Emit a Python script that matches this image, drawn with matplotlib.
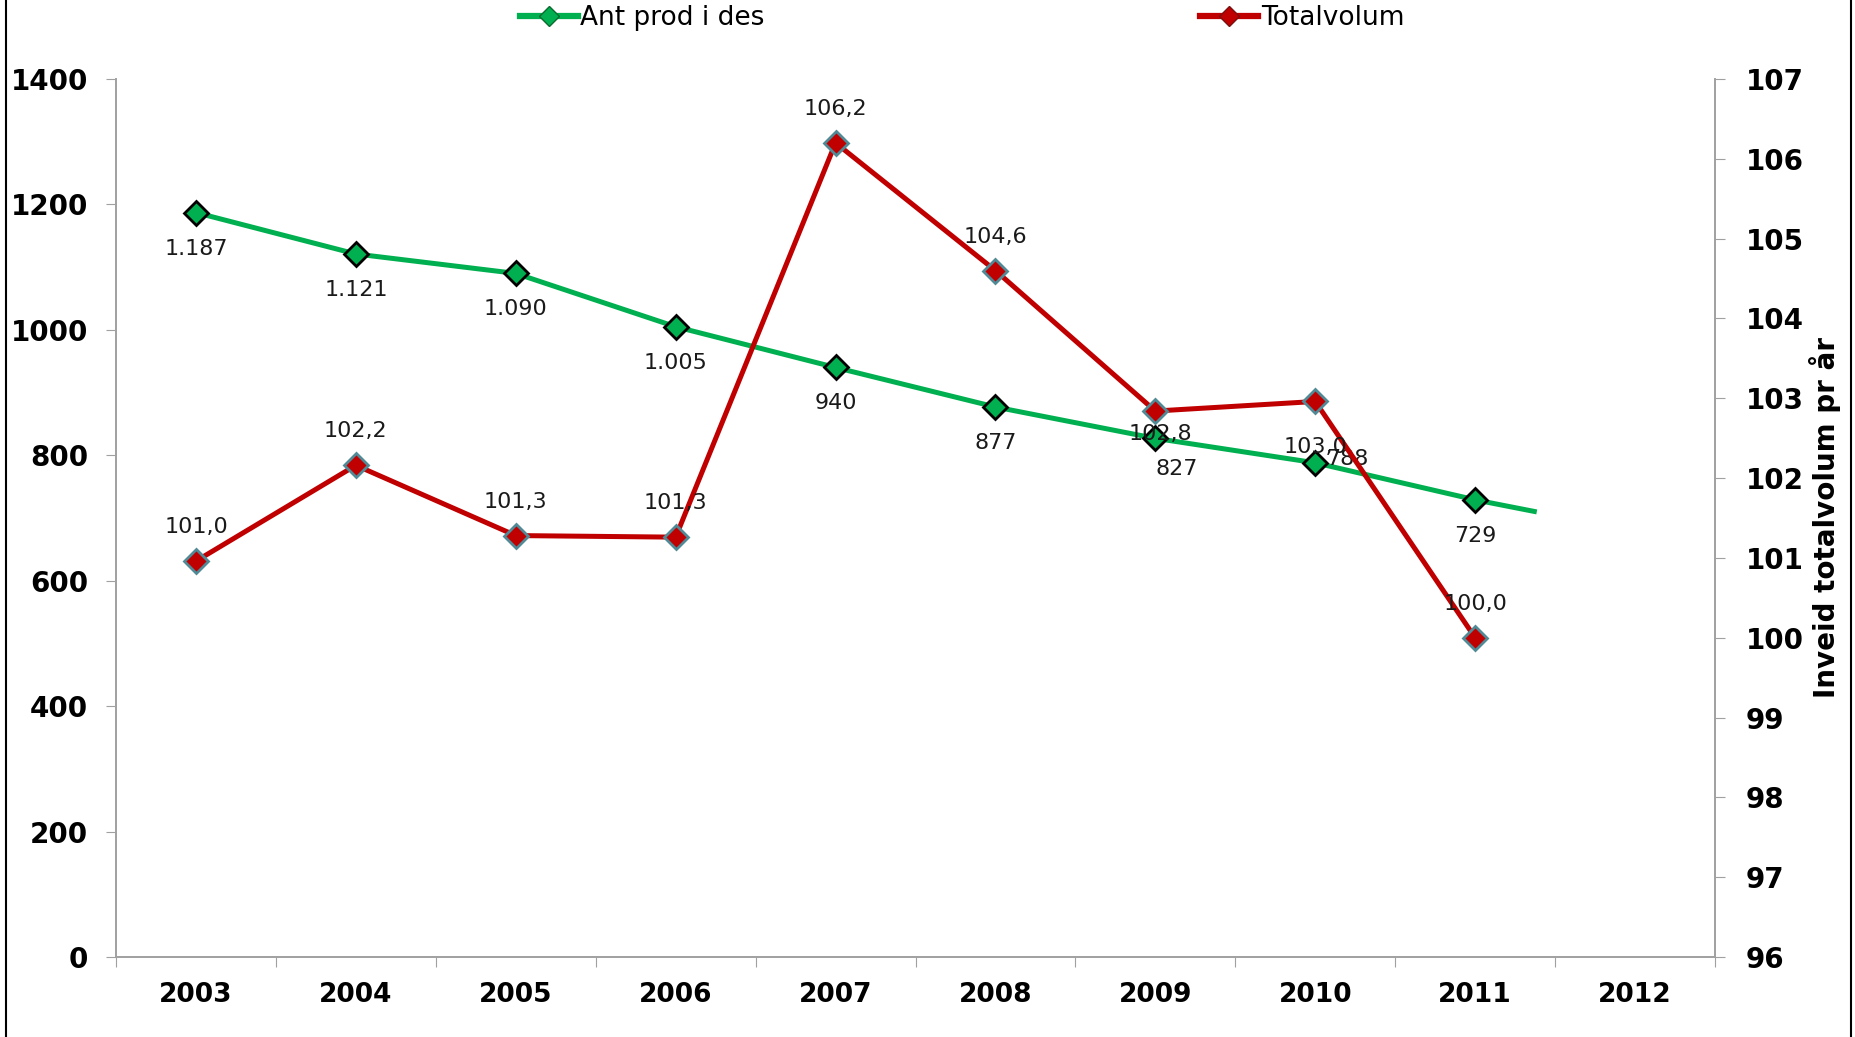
import numpy as np
import matplotlib
matplotlib.use("Agg")
import matplotlib.pyplot as plt
from matplotlib.lines import Line2D

years = [2003, 2004, 2005, 2006, 2007, 2008, 2009, 2010, 2011]
all_years = [2003, 2004, 2005, 2006, 2007, 2008, 2009, 2010, 2011, 2012]
ant_prod = [1187, 1121, 1090, 1005, 940, 877, 827, 788, 729]
totalvolum = [100.96, 102.16, 101.28, 101.26, 106.2, 104.6, 102.84, 102.96, 100.0]

green = "#00B050"
red = "#C00000"
txt = "#1a1a1a"

# label offsets in pixels (a few labels sit off their default place in the original)
green_off = {2009: (21, -31), 2010: (32, 4)}
red_off = {2009: (5, -23), 2010: (0, -46)}

fig = plt.figure(figsize=(18.55, 10.37), dpi=100)
ax = fig.add_axes([116 / 1855, 1 - 957 / 1037, (1715 - 116) / 1855, (957 - 79) / 1037])
ax2 = ax.twinx()

# green series + short forward trend (fitted from the data)
ax.plot(years, ant_prod, color=green, lw=3.6, zorder=2)
coef = np.polyfit(years, ant_prod, 2)
xf = np.linspace(years[-1], years[-1] + 0.37, 10)
yf = np.polyval(coef, xf) - np.polyval(coef, years[-1]) + ant_prod[-1]
ax.plot(xf, yf, color=green, lw=3.6, zorder=2)
ax.plot(years, ant_prod, ls="none", marker="D", ms=12, mfc=green, mec="black", mew=2, zorder=3)
for x, v in zip(years, ant_prod):
    s = f"{v:,}".replace(",", ".")
    ax.annotate(s, (x, v), xytext=green_off.get(x, (0, -36)), textcoords="offset pixels",
                ha="center", va="center", fontsize=16, color=txt, zorder=4)

ax2.plot(years, totalvolum, color=red, lw=3.6, marker="D", ms=12, mfc=red,
         mec="#4f8a96", mew=2, zorder=3)
for x, v in zip(years, totalvolum):
    ax2.annotate(f"{v:.1f}".replace(".", ","), (x, v), xytext=red_off.get(x, (0, 34)),
                 textcoords="offset pixels", ha="center", va="center", fontsize=16, color=txt, zorder=4)

ax.set_xlim(2002.5, 2012.5)
ax.set_ylim(0, 1400)
ax2.set_ylim(96, 107)
ax.set_yticks(range(0, 1401, 200))
ax2.set_yticks(range(96, 108))

ax.set_xticks([y - 0.5 for y in all_years] + [all_years[-1] + 0.5])
ax.set_xticklabels([])
ax.set_xticks(all_years, minor=True)
ax.set_xticklabels([str(y) for y in all_years], minor=True)
ax.tick_params(axis="x", which="minor", length=0, pad=18, labelsize=19)
ax.tick_params(axis="x", which="major", length=7, color="#a0a0a0", direction="out")
ax.tick_params(axis="y", length=7, color="#a0a0a0", pad=13, labelsize=20)
ax2.tick_params(axis="y", length=7, color="#a0a0a0", pad=15, labelsize=20)
for lab in ax.get_xticklabels(minor=True) + ax.get_yticklabels() + ax2.get_yticklabels():
    lab.set_fontweight("bold")

for a in (ax, ax2):
    a.spines["top"].set_visible(False)
    for sp in ("left", "right", "bottom"):
        a.spines[sp].set_color("#a0a0a0")
        a.spines[sp].set_linewidth(1.2)

ax2.set_ylabel("Inveid totalvolum pr år", fontsize=20, fontweight="bold", labelpad=4)

handles = [
    Line2D([], [], color=green, lw=4.5, marker="D", ms=10, mfc=green, mec="#0a6a30"),
    Line2D([], [], color=red, lw=4.5, marker="D", ms=10, mfc=red, mec="#7a1010"),
]
fig.legend(handles, ["Ant prod i des", "Totalvolum"], loc="center", bbox_to_anchor=(962 / 1855, 1 - 18 / 1037),
           ncol=2, frameon=False, fontsize=19, columnspacing=16.5, handlelength=2.2, handletextpad=0.1)

# chart frame edges
fig.add_artist(Line2D([6 / 1855, 6 / 1855], [0, 1], color="black", lw=1.5, transform=fig.transFigure))
fig.add_artist(Line2D([1851 / 1855, 1851 / 1855], [0, 1], color="black", lw=1.5, transform=fig.transFigure))

fig.savefig("out.png", dpi=100)
